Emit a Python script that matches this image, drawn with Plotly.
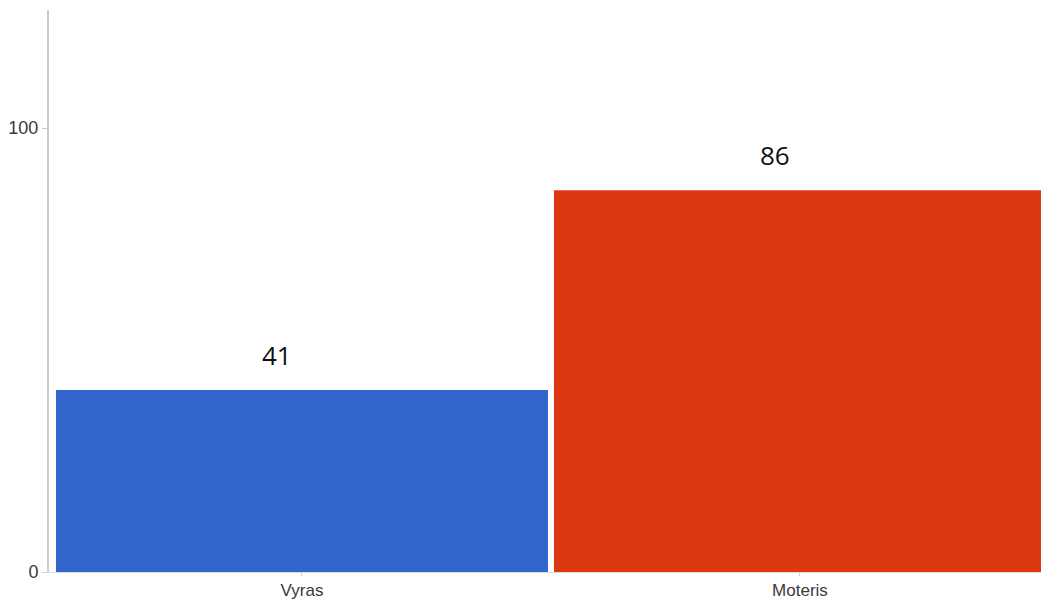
import plotly.graph_objects as go

# Category labels and values
categories = ["Vyras", "Moteris"]
values = [41, 86]
colors = ["#3366cc", "#dc3912"]
y_ticks = [0, 100]

fig = go.Figure()
fig.add_trace(go.Bar(
    x=categories,
    y=values,
    marker=dict(color=colors, line=dict(width=0)),
    hoverinfo="x+y",
))

# Value labels above each bar
for cat, val in zip(categories, values):
    fig.add_annotation(
        x=cat, y=val, text=str(val), showarrow=False,
        xref="x", yref="y", yanchor="middle", xanchor="center",
        yshift=35, xshift=-25,
        font=dict(family="Open Sans", size=26, color="#111111"),
    )

fig.update_layout(
    width=1041, height=600,
    margin=dict(l=49, r=0, t=10, b=28),
    paper_bgcolor="white", plot_bgcolor="white",
    bargap=0.012,
    showlegend=False,
    font=dict(family="Liberation Sans, Arial", size=17, color="#3a3a3a"),
)
fig.update_xaxes(
    type="category", range=[-0.508, 1.484], automargin=False,
    showgrid=False, zeroline=False,
    showline=True, linecolor="#dcdcdc", linewidth=1,
    ticks="outside", ticklen=3, tickcolor="#cccccc",
    tickfont=dict(size=17, color="#3a3a3a"),
)
fig.update_yaxes(
    range=[0, 126.6], tickvals=y_ticks, automargin=False,
    showgrid=False, zeroline=False,
    showline=True, linecolor="#cccccc", linewidth=2,
    ticks="outside", ticklen=5, tickcolor="#cccccc",
    tickfont=dict(size=18, color="#3a3a3a"),
)

fig.write_html("out.html")
